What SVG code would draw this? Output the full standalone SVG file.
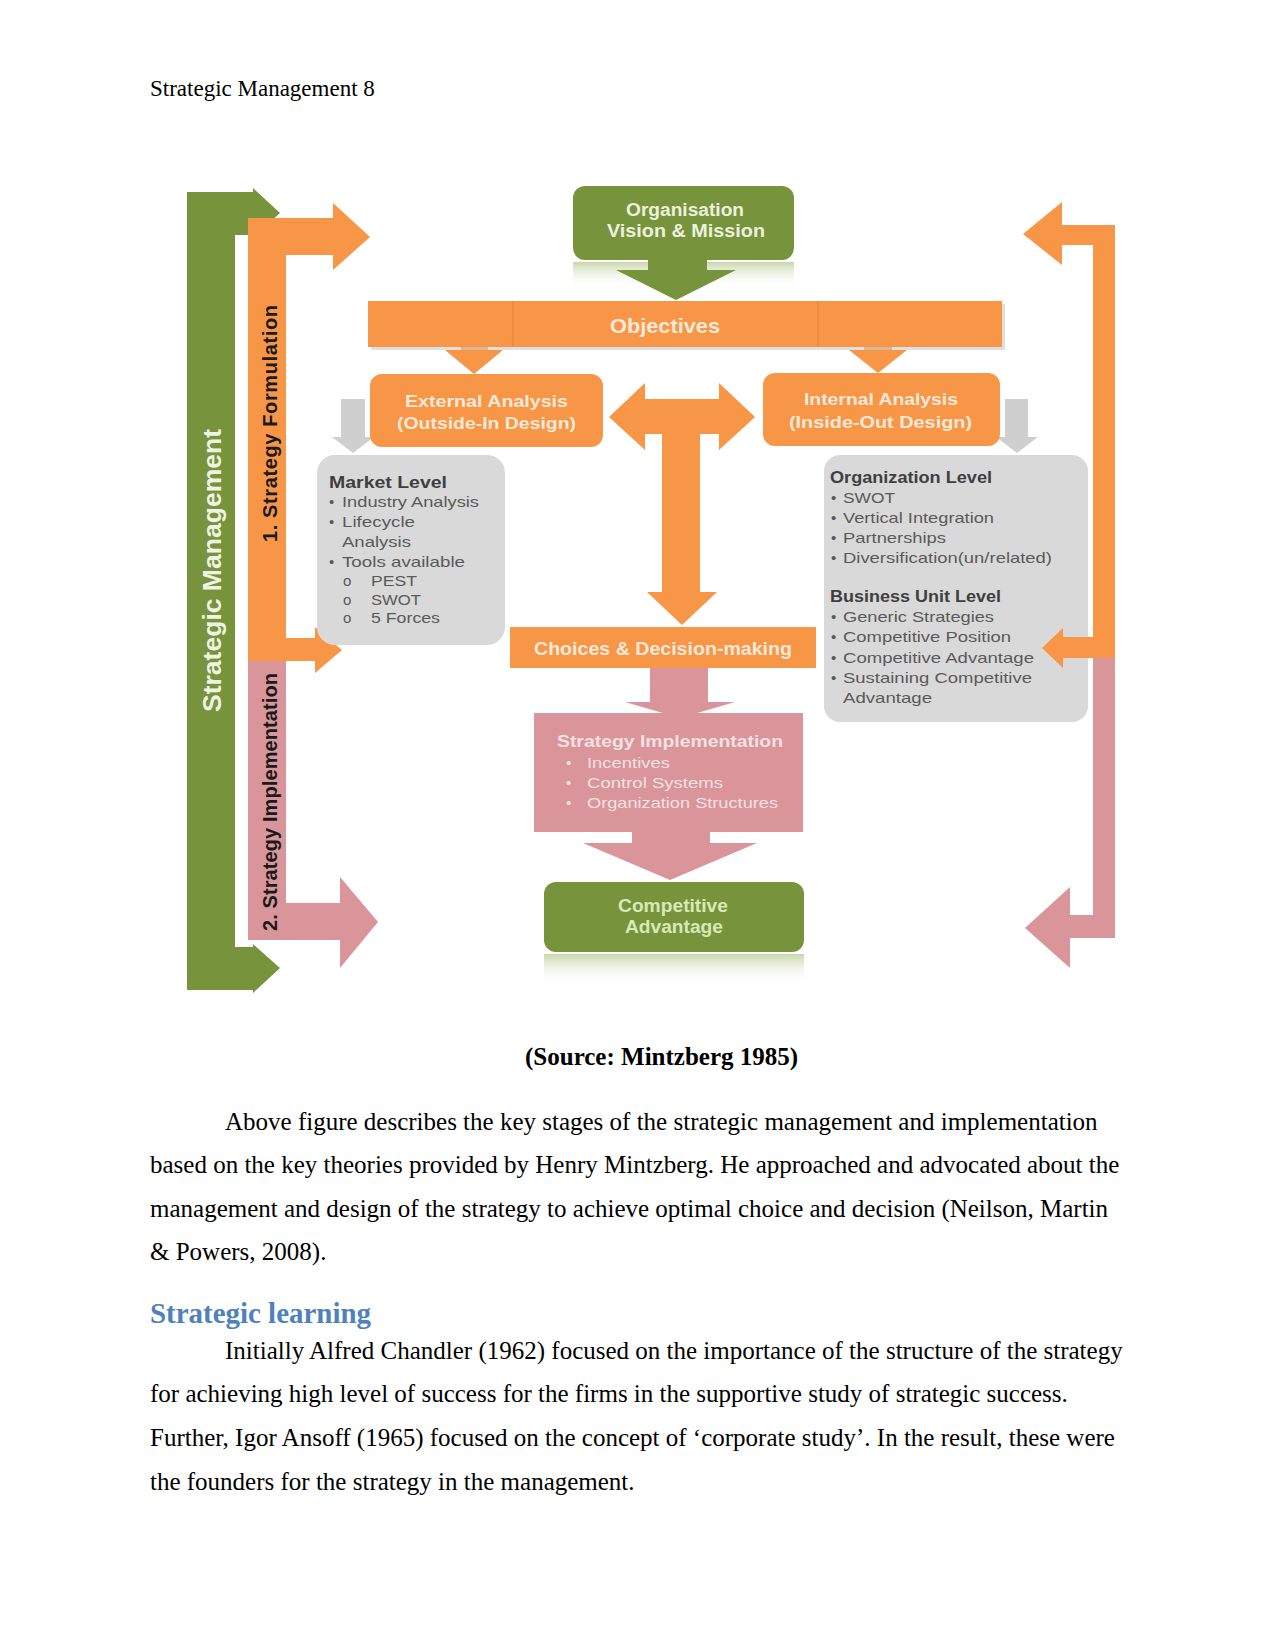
<svg xmlns="http://www.w3.org/2000/svg" width="1275" height="1650" viewBox="0 0 1275 1650">
<defs>
<style>
.o{fill:#f79646}.g{fill:#77933c}.p{fill:#d9959a}.gy{fill:#d9d9d9}.ga{fill:#cfcfcf}
.dt{font-family:"Liberation Sans",Arial,sans-serif}
.b{font-weight:bold}
.tw{fill:#fde9d9}.tg{fill:#ebf1de}.tcg{fill:#d7e9b6}.tp{fill:#f5e1e1}
.tt{fill:#3f3f3f;font-weight:bold;font-size:17px}
.ti{fill:#5a5a5a;font-size:15px}
.body{font-family:"Liberation Serif","Times New Roman",serif;font-size:25px;fill:#000}
</style>
<linearGradient id="refl" x1="0" y1="0" x2="0" y2="1">
<stop offset="0" stop-color="#b7c98f" stop-opacity="0.75"/>
<stop offset="1" stop-color="#ffffff" stop-opacity="0"/>
</linearGradient>
</defs>
<rect width="1275" height="1650" fill="#fff"/>

<text class="body" x="150" y="96" style="font-size:23px">Strategic Management 8</text>

<g id="connectors">
<polygon id="strategic-management-arrow" class="g" points="187,192 253,192 253,188 280,213 253,238 253,235 235,235 235,947 253,947 253,944 280,968 253,993 253,990 187,990"/>
<polygon id="formulation-arrow" class="o" points="248,218 333,218 333,203 370,237 333,270 333,255 286,255 286,638 315,638 315,627 342,650 315,673 315,661 248,661"/>
<polygon id="implementation-arrow" class="p" points="248,661 286,661 286,903 340,903 340,877 378,922 340,968 340,940 248,940"/>
<polygon id="right-orange-arrow" class="o" points="1115,225 1062,225 1062,202 1023,234 1062,265 1062,245 1093,245 1093,637 1063,637 1063,628 1042,648 1063,668 1063,658 1115,658"/>
<polygon id="right-pink-arrow" class="p" points="1115,658 1093,658 1093,915 1070,915 1070,887 1025,928 1070,968 1070,938 1115,938"/>
<rect x="573" y="262" width="221" height="26" fill="url(#refl)"/>
<polygon id="vision-arrow" class="g" points="648,258 707,258 707,270 736,270 676,300 616,270 648,270"/>
<polygon id="obj-ext-arrow" class="o" points="461,347 488,347 488,350 503,350 474,374 445,350 461,350"/>
<polygon id="obj-int-arrow" class="o" points="864,347 892,347 892,350 907,350 878,373 849,350 864,350"/>
<polygon id="ext-market-arrow" class="ga" points="341,399 365,399 365,437 374,437 353,453 332,437 341,437"/>
<polygon id="int-org-arrow" class="ga" points="1005,399 1028,399 1028,437 1038,437 1017,453 996,437 1005,437"/>
<polygon id="t-arrow" class="o" points="609,417 645,383 645,399 719,399 719,383 755,417 719,450 719,434 700,434 700,592 717,592 682,625 647,592 662,592 662,434 645,434 645,450"/>
<polygon id="choices-impl-arrow" class="p" points="650,666 708,666 708,702 735,702 680,718 625,702 650,702"/>
<polygon id="impl-comp-arrow" class="p" points="632,830 710,830 710,843 757,843 670,880 583,843 632,843"/>
</g>

<g id="label-strategic-management" class="dt b">
<text transform="translate(221,712) rotate(-90)" style="font-size:26px;fill:#eef3e4" textLength="283" lengthAdjust="spacingAndGlyphs">Strategic Management</text>
</g>
<g id="label-formulation" class="dt b">
<text transform="translate(277,542) rotate(-90)" style="font-size:20px;fill:#1a1a1a" textLength="237" lengthAdjust="spacing">1.   Strategy Formulation</text>
</g>
<g id="label-implementation" class="dt b">
<text transform="translate(277,931) rotate(-90)" style="font-size:20px;fill:#1a1a1a" textLength="258" lengthAdjust="spacing">2. Strategy Implementation</text>
</g>

<g id="node-vision">
<rect class="g" x="573" y="186" width="221" height="74" rx="12"/>
<text class="dt b tg" x="626" y="216" style="font-size:18px" textLength="118" lengthAdjust="spacingAndGlyphs">Organisation</text>
<text class="dt b tg" x="607" y="237" style="font-size:18px" textLength="158" lengthAdjust="spacingAndGlyphs">Vision &amp; Mission</text>
</g>

<g id="node-objectives">
<rect x="371" y="304" width="634" height="46" fill="#c9c9c9" opacity="0.6"/>
<rect class="o" x="368" y="301" width="634" height="46"/>
<line x1="513" y1="301" x2="513" y2="347" stroke="#e98a3c" stroke-width="1.5"/>
<line x1="818" y1="301" x2="818" y2="347" stroke="#e98a3c" stroke-width="1.5"/>
<text class="dt b tw" x="610" y="333" style="font-size:21px" textLength="110" lengthAdjust="spacingAndGlyphs">Objectives</text>
</g>

<g id="node-external">
<rect class="o" x="370" y="374" width="233" height="73" rx="12"/>
<text class="dt b tw" x="405" y="407" style="font-size:17px" textLength="163" lengthAdjust="spacingAndGlyphs">External Analysis</text>
<text class="dt b tw" x="397" y="429" style="font-size:17px" textLength="179" lengthAdjust="spacingAndGlyphs">(Outside-In Design)</text>
</g>

<g id="node-internal">
<rect class="o" x="763" y="373" width="237" height="73" rx="12"/>
<text class="dt b tw" x="804" y="405" style="font-size:17px" textLength="154" lengthAdjust="spacingAndGlyphs">Internal Analysis</text>
<text class="dt b tw" x="789" y="428" style="font-size:17px" textLength="183" lengthAdjust="spacingAndGlyphs">(Inside-Out Design)</text>
</g>

<g id="node-market" class="dt">
<rect class="gy" x="317" y="455" width="188" height="190" rx="18"/>
<text class="tt" x="329" y="488" textLength="118" lengthAdjust="spacingAndGlyphs">Market Level</text>
<text class="ti" x="329" y="507">•</text>
<text class="ti" x="342" y="507" textLength="137" lengthAdjust="spacingAndGlyphs">Industry Analysis</text>
<text class="ti" x="329" y="527">•</text>
<text class="ti" x="342" y="527" textLength="73" lengthAdjust="spacingAndGlyphs">Lifecycle</text>
<text class="ti" x="342" y="547" textLength="69" lengthAdjust="spacingAndGlyphs">Analysis</text>
<text class="ti" x="329" y="567">•</text>
<text class="ti" x="342" y="567" textLength="123" lengthAdjust="spacingAndGlyphs">Tools available</text>
<text class="ti" x="343" y="586">o</text>
<text class="ti" x="371" y="586" textLength="46" lengthAdjust="spacingAndGlyphs">PEST</text>
<text class="ti" x="343" y="605">o</text>
<text class="ti" x="371" y="605" textLength="50" lengthAdjust="spacingAndGlyphs">SWOT</text>
<text class="ti" x="343" y="623">o</text>
<text class="ti" x="371" y="623" textLength="69" lengthAdjust="spacingAndGlyphs">5 Forces</text>
</g>

<g id="node-organization" class="dt">
<rect class="gy" x="824" y="455" width="264" height="267" rx="16"/>
<text class="tt" x="830" y="483" textLength="162" lengthAdjust="spacingAndGlyphs">Organization Level</text>
<text class="ti" x="831" y="503">•</text>
<text class="ti" x="843" y="503" textLength="52" lengthAdjust="spacingAndGlyphs">SWOT</text>
<text class="ti" x="831" y="523">•</text>
<text class="ti" x="843" y="523" textLength="151" lengthAdjust="spacingAndGlyphs">Vertical Integration</text>
<text class="ti" x="831" y="543">•</text>
<text class="ti" x="843" y="543" textLength="103" lengthAdjust="spacingAndGlyphs">Partnerships</text>
<text class="ti" x="831" y="563">•</text>
<text class="ti" x="843" y="563" textLength="209" lengthAdjust="spacingAndGlyphs">Diversification(un/related)</text>
<text class="tt" x="830" y="602" textLength="171" lengthAdjust="spacingAndGlyphs">Business Unit Level</text>
<text class="ti" x="831" y="622">•</text>
<text class="ti" x="843" y="622" textLength="151" lengthAdjust="spacingAndGlyphs">Generic Strategies</text>
<text class="ti" x="831" y="642">•</text>
<text class="ti" x="843" y="642" textLength="168" lengthAdjust="spacingAndGlyphs">Competitive Position</text>
<text class="ti" x="831" y="663">•</text>
<text class="ti" x="843" y="663" textLength="191" lengthAdjust="spacingAndGlyphs">Competitive Advantage</text>
<text class="ti" x="831" y="683">•</text>
<text class="ti" x="843" y="683" textLength="189" lengthAdjust="spacingAndGlyphs">Sustaining Competitive</text>
<text class="ti" x="843" y="703" textLength="89" lengthAdjust="spacingAndGlyphs">Advantage</text>
</g>

<polygon class="o" points="1063,637 1063,628 1042,648 1063,668 1063,658 1093,658 1093,637"/>

<g id="node-choices">
<rect class="o" x="510" y="627" width="306" height="41"/>
<text class="dt b tw" x="534" y="655" style="font-size:18px" textLength="258" lengthAdjust="spacingAndGlyphs">Choices  &amp; Decision-making</text>
</g>

<g id="node-implementation" class="dt">
<rect class="p" x="534" y="713" width="269" height="119"/>
<text class="b tp" x="557" y="747" style="font-size:17px" textLength="226" lengthAdjust="spacingAndGlyphs">Strategy Implementation</text>
<text class="tp" x="566" y="768" style="font-size:15px">•</text>
<text class="tp" x="587" y="768" style="font-size:15px" textLength="83" lengthAdjust="spacingAndGlyphs">Incentives</text>
<text class="tp" x="566" y="788" style="font-size:15px">•</text>
<text class="tp" x="587" y="788" style="font-size:15px" textLength="136" lengthAdjust="spacingAndGlyphs">Control Systems</text>
<text class="tp" x="566" y="808" style="font-size:15px">•</text>
<text class="tp" x="587" y="808" style="font-size:15px" textLength="191" lengthAdjust="spacingAndGlyphs">Organization Structures</text>
</g>

<g id="node-competitive">
<rect x="544" y="954" width="260" height="30" fill="url(#refl)"/>
<rect class="g" x="544" y="882" width="260" height="70" rx="12"/>
<text class="dt b tcg" x="618" y="912" style="font-size:18px" textLength="110" lengthAdjust="spacingAndGlyphs">Competitive</text>
<text class="dt b tcg" x="625" y="933" style="font-size:18px" textLength="98" lengthAdjust="spacingAndGlyphs">Advantage</text>
</g>

<text class="body" x="525" y="1065" style="font-weight:bold">(Source: Mintzberg 1985)</text>

<text class="body" x="225" y="1130">Above figure describes the key stages of the strategic management and implementation</text>
<text class="body" x="150" y="1173">based on the key theories provided by Henry Mintzberg. He approached and advocated about the</text>
<text class="body" x="150" y="1217">management and design of the strategy to achieve optimal choice and decision (Neilson, Martin</text>
<text class="body" x="150" y="1260">&amp; Powers, 2008).</text>

<text x="150" y="1323" style="font-family:'Liberation Serif','Times New Roman',serif;font-size:29px;font-weight:bold;fill:#4f81bd" textLength="221" lengthAdjust="spacingAndGlyphs">Strategic learning</text>

<text class="body" x="225" y="1359">Initially Alfred Chandler (1962) focused on the importance of the structure of the strategy</text>
<text class="body" x="150" y="1402">for achieving high level of success for the firms in the supportive study of strategic success.</text>
<text class="body" x="150" y="1446">Further, Igor Ansoff (1965) focused on the concept of ‘corporate study’. In the result, these were</text>
<text class="body" x="150" y="1490">the founders for the strategy in the management.</text>
</svg>
